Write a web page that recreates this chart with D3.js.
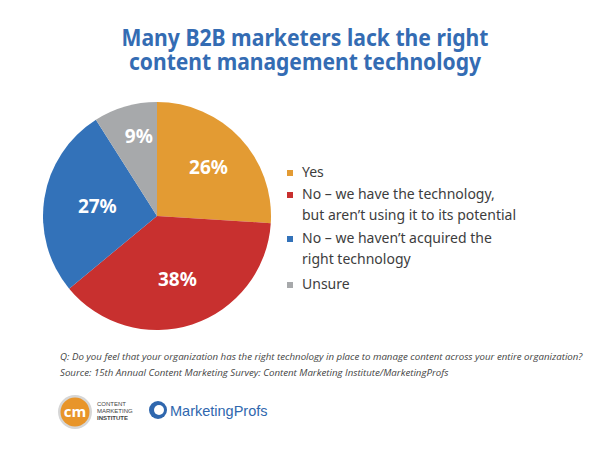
<!DOCTYPE html>
<html><head><meta charset="utf-8">
<script src="https://cdn.jsdelivr.net/npm/d3@7/dist/d3.min.js"></script>
<style>body{margin:0;background:#fff}svg{display:block}</style>
</head><body>
<svg id="c" width="602" height="458"></svg>
<script>
const titleLines = ["Many B2B marketers lack the right", "content management technology"];
const categories = ["Yes", "No – we have the technology, but aren’t using it to its potential", "No – we haven’t acquired the right technology", "Unsure"];
const legendLines = [["Yes"], ["No – we have the technology,", "but aren’t using it to its potential"], ["No – we haven’t acquired the", "right technology"], ["Unsure"]];
const values = [26, 38, 27, 9];
const colors = ["#e39b33", "#c8302f", "#3372b9", "#a7a9ab"];
const footnotes = ["Q: Do you feel that your organization has the right technology in place to manage content across your entire organization?", "Source: 15th Annual Content Marketing Survey: Content Marketing Institute/MarketingProfs"];

const svg = d3.select("#c");
const font = "'Source Sans Pro','Noto Sans','Open Sans',sans-serif";

const titleW = [367, 352];
const title = svg.append("text").attr("font-family", font).attr("font-weight", 700)
  .attr("font-size", 23.5).attr("fill", "#346cb3").attr("text-anchor","middle");
title.selectAll("tspan").data(titleLines).join("tspan")
  .attr("x", 305).attr("y", (d,i)=>46+i*24)
  .attr("textLength", (d,i)=>titleW[i]).attr("lengthAdjust","spacingAndGlyphs").text(d=>d);

const cx = 157, cy = 216, r = 114;
const pie = d3.pie().sort(null).value(d=>d);
const arcs = pie(values);
const arc = d3.arc().innerRadius(0).outerRadius(r);
const g = svg.append("g").attr("transform", `translate(${cx},${cy})`);
g.selectAll("path").data(arcs).join("path").attr("d", arc).attr("fill", (d,i)=>colors[i]);
const labelR = [0.62, 0.58, 0.53, 0.72];
const labelShift = [0, 0, 0, 0.06];
g.selectAll("text").data(arcs).join("text")
  .attr("transform", (d,i)=>{const a=(d.startAngle+d.endAngle)/2 + labelShift[i]; const rr=r*labelR[i]; return `translate(${Math.sin(a)*rr},${-Math.cos(a)*rr})`;})
  .attr("text-anchor","middle").attr("dy","0.36em")
  .attr("font-family", font).attr("font-weight", 700).attr("font-size", 19)
  .attr("fill", "#fff").text(d=>d.data + "%");

// legend
const legTop = [177, 199, 243, 289];
const lg = svg.append("g");
legendLines.forEach((lines, i) => {
  lg.append("rect").attr("x", 287).attr("y", legTop[i]-7).attr("width", 6).attr("height", 6).attr("fill", colors[i]);
  lines.forEach((t, j) => {
    lg.append("text").attr("x", 302).attr("y", legTop[i] + j*21)
      .attr("font-family", font).attr("font-size", 14).attr("fill", "#3d3d3d").text(t);
  });
});

svg.selectAll("text.foot").data(footnotes).join("text")
  .attr("x", 60).attr("y", (d,i)=>360+i*16)
  .attr("font-family", "'Open Sans',sans-serif").attr("font-style","italic")
  .attr("font-size", 9.7).attr("fill", "#444").text(d=>d);

// logos
const logo = svg.append("g");
logo.append("circle").attr("cx", 75).attr("cy", 412).attr("r", 17).attr("fill", "#d6d6d6");
logo.append("circle").attr("cx", 75).attr("cy", 412).attr("r", 14.5).attr("fill", "#e8952a");
logo.append("text").attr("x", 75).attr("y", 417).attr("text-anchor","middle")
  .attr("font-family", "'Open Sans',sans-serif").attr("font-weight",700).attr("font-size", 15).attr("fill","#fff").text("cm");
["CONTENT","MARKETING","INSTITUTE"].forEach((t,i)=>{
  logo.append("text").attr("x", 97).attr("y", 406+i*7).attr("font-family","'Liberation Sans',Arial,sans-serif")
    .attr("font-size", 6).attr("font-weight", i==2?700:400).attr("fill","#444").text(t);
});
logo.append("circle").attr("cx", 158).attr("cy", 410).attr("r", 9).attr("fill", "#2f67ae");
logo.append("circle").attr("cx", 159).attr("cy", 410).attr("r", 5).attr("fill", "#fff");
logo.append("text").attr("x", 170).attr("y", 416).attr("font-family", "'Liberation Sans',Arial,sans-serif")
  .attr("font-size", 14.5).attr("fill", "#2f67ae").text("MarketingProfs");
</script>
</body></html>
